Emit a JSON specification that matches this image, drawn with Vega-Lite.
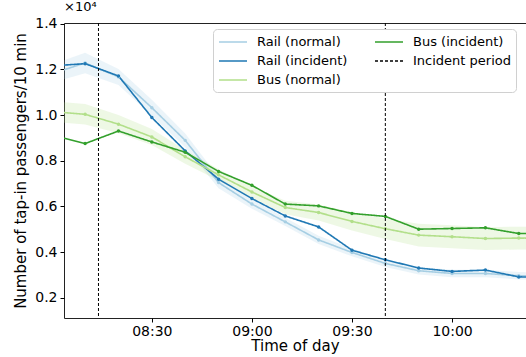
{
  "$schema": "https://vega.github.io/schema/vega-lite/v6.json",
  "width": 462,
  "height": 295,
  "autosize": {"type": "none"},
  "padding": {"left": 64, "top": 23, "right": 0, "bottom": 39},
  "title": {"text": "×10⁴", "anchor": "start", "frame": "group", "fontSize": 13, "fontWeight": "normal", "offset": 3, "color": "#000"},
  "config": {
    "font": "DejaVu Sans",
    "view": {"stroke": "#222", "strokeWidth": 1},
    "axis": {
      "domain": false,
      "grid": false,
      "tickColor": "#000",
      "tickSize": 4,
      "labelColor": "#000",
      "labelFontSize": 14,
      "labelPadding": 3,
      "titleColor": "#000",
      "titleFontSize": 15,
      "titleFontWeight": "normal"
    },
    "legend": {
      "title": null,
      "orient": "none",
      "legendX": 149,
      "legendY": 6,
      "columns": 2,
      "fillColor": "white",
      "strokeColor": "#d0d0d0",
      "cornerRadius": 4,
      "padding": 5,
      "symbolType": "M-1,0H3",
      "symbolSize": 196,
      "symbolStrokeWidth": 1.6,
      "symbolOpacity": 1,
      "labelFontSize": 13,
      "labelColor": "#000",
      "labelOffset": 23,
      "rowPadding": 4,
      "columnPadding": 23
    }
  },
  "data": {
    "format": {"parse": {"time": "date:'%H:%M'"}},
    "values": [
      {"time": "08:00", "series": "Rail (normal)", "value": 11810, "lower": 11410, "upper": 12210},
      {"time": "08:10", "series": "Rail (normal)", "value": 12280, "lower": 11830, "upper": 12730},
      {"time": "08:20", "series": "Rail (normal)", "value": 11670, "lower": 11320, "upper": 12020},
      {"time": "08:30", "series": "Rail (normal)", "value": 10320, "lower": 9970, "upper": 10670},
      {"time": "08:40", "series": "Rail (normal)", "value": 8890, "lower": 8590, "upper": 9190},
      {"time": "08:50", "series": "Rail (normal)", "value": 7040, "lower": 6790, "upper": 7290},
      {"time": "09:00", "series": "Rail (normal)", "value": 6100, "lower": 5900, "upper": 6300},
      {"time": "09:10", "series": "Rail (normal)", "value": 5320, "lower": 5140, "upper": 5500},
      {"time": "09:20", "series": "Rail (normal)", "value": 4530, "lower": 4350, "upper": 4710},
      {"time": "09:30", "series": "Rail (normal)", "value": 3980, "lower": 3810, "upper": 4150},
      {"time": "09:40", "series": "Rail (normal)", "value": 3500, "lower": 3340, "upper": 3660},
      {"time": "09:50", "series": "Rail (normal)", "value": 3180, "lower": 3020, "upper": 3340},
      {"time": "10:00", "series": "Rail (normal)", "value": 3060, "lower": 2900, "upper": 3220},
      {"time": "10:10", "series": "Rail (normal)", "value": 3060, "lower": 2900, "upper": 3220},
      {"time": "10:20", "series": "Rail (normal)", "value": 2960, "lower": 2800, "upper": 3120},
      {"time": "10:30", "series": "Rail (normal)", "value": 2950, "lower": 2790, "upper": 3110},
      {"time": "08:00", "series": "Rail (incident)", "value": 12150},
      {"time": "08:10", "series": "Rail (incident)", "value": 12250},
      {"time": "08:20", "series": "Rail (incident)", "value": 11710},
      {"time": "08:30", "series": "Rail (incident)", "value": 9890},
      {"time": "08:40", "series": "Rail (incident)", "value": 8430},
      {"time": "08:50", "series": "Rail (incident)", "value": 7190},
      {"time": "09:00", "series": "Rail (incident)", "value": 6340},
      {"time": "09:10", "series": "Rail (incident)", "value": 5580},
      {"time": "09:20", "series": "Rail (incident)", "value": 5100},
      {"time": "09:30", "series": "Rail (incident)", "value": 4080},
      {"time": "09:40", "series": "Rail (incident)", "value": 3660},
      {"time": "09:50", "series": "Rail (incident)", "value": 3300},
      {"time": "10:00", "series": "Rail (incident)", "value": 3150},
      {"time": "10:10", "series": "Rail (incident)", "value": 3210},
      {"time": "10:20", "series": "Rail (incident)", "value": 2910},
      {"time": "10:30", "series": "Rail (incident)", "value": 2900},
      {"time": "08:00", "series": "Bus (normal)", "value": 10150, "lower": 9700, "upper": 10600},
      {"time": "08:10", "series": "Bus (normal)", "value": 10030, "lower": 9580, "upper": 10480},
      {"time": "08:20", "series": "Bus (normal)", "value": 9600, "lower": 9200, "upper": 10000},
      {"time": "08:30", "series": "Bus (normal)", "value": 9040, "lower": 8690, "upper": 9390},
      {"time": "08:40", "series": "Bus (normal)", "value": 8170, "lower": 7870, "upper": 8470},
      {"time": "08:50", "series": "Bus (normal)", "value": 7380, "lower": 7130, "upper": 7630},
      {"time": "09:00", "series": "Bus (normal)", "value": 6630, "lower": 6380, "upper": 6880},
      {"time": "09:10", "series": "Bus (normal)", "value": 5950, "lower": 5650, "upper": 6250},
      {"time": "09:20", "series": "Bus (normal)", "value": 5730, "lower": 5380, "upper": 6080},
      {"time": "09:30", "series": "Bus (normal)", "value": 5340, "lower": 4940, "upper": 5740},
      {"time": "09:40", "series": "Bus (normal)", "value": 5020, "lower": 4570, "upper": 5470},
      {"time": "09:50", "series": "Bus (normal)", "value": 4740, "lower": 4240, "upper": 5240},
      {"time": "10:00", "series": "Bus (normal)", "value": 4670, "lower": 4170, "upper": 5170},
      {"time": "10:10", "series": "Bus (normal)", "value": 4590, "lower": 4090, "upper": 5090},
      {"time": "10:20", "series": "Bus (normal)", "value": 4610, "lower": 4110, "upper": 5110},
      {"time": "10:30", "series": "Bus (normal)", "value": 4600, "lower": 4100, "upper": 5100},
      {"time": "08:00", "series": "Bus (incident)", "value": 9120},
      {"time": "08:10", "series": "Bus (incident)", "value": 8750},
      {"time": "08:20", "series": "Bus (incident)", "value": 9300},
      {"time": "08:30", "series": "Bus (incident)", "value": 8820},
      {"time": "08:40", "series": "Bus (incident)", "value": 8370},
      {"time": "08:50", "series": "Bus (incident)", "value": 7530},
      {"time": "09:00", "series": "Bus (incident)", "value": 6920},
      {"time": "09:10", "series": "Bus (incident)", "value": 6100},
      {"time": "09:20", "series": "Bus (incident)", "value": 6020},
      {"time": "09:30", "series": "Bus (incident)", "value": 5690},
      {"time": "09:40", "series": "Bus (incident)", "value": 5560},
      {"time": "09:50", "series": "Bus (incident)", "value": 5000},
      {"time": "10:00", "series": "Bus (incident)", "value": 5030},
      {"time": "10:10", "series": "Bus (incident)", "value": 5060},
      {"time": "10:20", "series": "Bus (incident)", "value": 4810},
      {"time": "10:30", "series": "Bus (incident)", "value": 4820}
    ]
  },
  "layer": [
    {
      "transform": [{"filter": "isValid(datum.lower)"}],
      "mark": {"type": "area", "opacity": 0.22, "clip": true},
      "encoding": {
        "x": {
          "field": "time",
          "type": "temporal",
          "scale": {"domain": [{"year": 1900, "month": 1, "date": 1, "hours": 8, "minutes": 3, "seconds": 40}, {"year": 1900, "month": 1, "date": 1, "hours": 10, "minutes": 22, "seconds": 10}]},
          "axis": {"title": "Time of day", "format": "%H:%M", "values": [{"year": 1900, "month": 1, "date": 1, "hours": 8, "minutes": 30}, {"year": 1900, "month": 1, "date": 1, "hours": 9, "minutes": 0}, {"year": 1900, "month": 1, "date": 1, "hours": 9, "minutes": 30}, {"year": 1900, "month": 1, "date": 1, "hours": 10, "minutes": 0}], "titlePadding": 0, "labelPadding": 2}
        },
        "y": {"field": "lower", "type": "quantitative", "scale": {"domain": [1110, 14030], "nice": false, "zero": false}, "axis": {"values": [2000, 4000, 6000, 8000, 10000, 12000, 14000], "labelExpr": "format(datum.value/10000, '.1f')", "title": "Number of tap-in passengers/10 min", "titlePadding": 6}},
        "y2": {"field": "upper"},
        "color": {
          "field": "series",
          "type": "nominal",
          "scale": {
            "domain": ["Rail (normal)", "Rail (incident)", "Bus (normal)", "Bus (incident)", "Incident period"],
            "range": ["#a6cee3", "#1f78b4", "#b2df8a", "#33a02c", "#000000"]
          }
        }
      }
    },
    {
      "mark": {"type": "line", "strokeWidth": 1.6, "clip": true},
      "encoding": {
        "x": {"field": "time", "type": "temporal"},
        "y": {"field": "value", "type": "quantitative"},
        "color": {"field": "series", "type": "nominal"},
        "strokeDash": {
          "field": "series",
          "type": "nominal",
          "scale": {
            "domain": ["Rail (normal)", "Rail (incident)", "Bus (normal)", "Bus (incident)", "Incident period"],
            "range": [[1, 0], [1, 0], [1, 0], [1, 0], [3, 2]]
          }
        }
      }
    },
    {
      "mark": {"type": "point", "filled": true, "size": 12, "opacity": 1, "clip": true},
      "encoding": {
        "x": {"field": "time", "type": "temporal"},
        "y": {"field": "value", "type": "quantitative"},
        "color": {"field": "series", "type": "nominal"}
      }
    },
    {
      "data": {
        "format": {"parse": {"time": "date:'%H:%M'"}},
        "values": [
          {"time": "08:14", "series": "Incident period"},
          {"time": "09:40", "series": "Incident period"}
        ]
      },
      "mark": {"type": "rule", "strokeWidth": 1},
      "encoding": {
        "x": {"field": "time", "type": "temporal"},
        "color": {"field": "series", "type": "nominal"},
        "strokeDash": {"field": "series", "type": "nominal"}
      }
    }
  ]
}
